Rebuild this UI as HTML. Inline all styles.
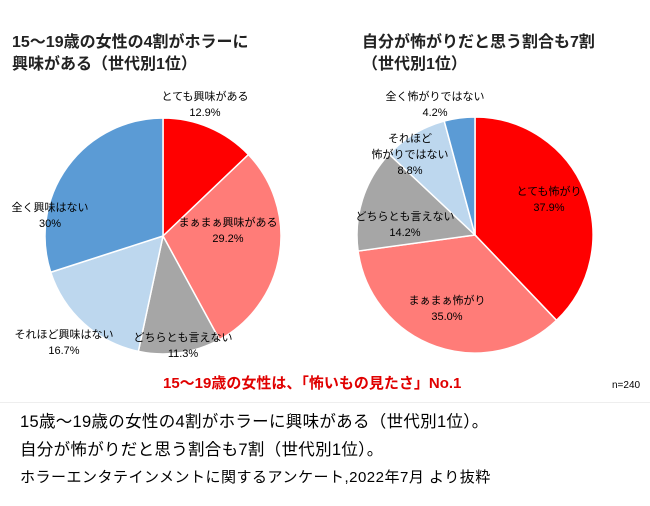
<!DOCTYPE html>
<html><head><meta charset="utf-8">
<style>
body{margin:0;width:650px;height:506px;background:#fff;overflow:hidden;font-family:"Liberation Sans","Noto Sans CJK JP",sans-serif;}
svg{position:absolute;left:0;top:0}
.t{position:absolute;color:#000;white-space:nowrap}
</style></head><body>
<svg width="650" height="506">
<g id="p1"></g>
<g id="p2"></g>
<g id="lbl" font-family="Liberation Sans, Noto Sans CJK JP, sans-serif" font-size="11" text-anchor="middle" fill="#000"></g>
</svg>
<div class="t" style="left:12px;top:32px;font-size:16px;line-height:22px;font-weight:bold;color:#222">15～19歳の女性の4割がホラーに<br>興味がある（世代別1位）</div>
<div class="t" style="left:362px;top:32px;font-size:16px;line-height:22px;font-weight:bold;color:#222">自分が怖がりだと思う割合も7割<br>（世代別1位）</div>
<div class="t" style="left:163px;top:372px;font-size:15px;font-weight:bold;color:#e00000">15～19歳の女性は、「怖いもの見たさ」No.1</div>
<div class="t" style="left:612px;top:380px;font-size:10px">n=240</div>
<div style="position:absolute;left:0;top:402px;width:650px;height:1px;background:#eee"></div>
<div class="t" style="left:20px;top:408px;font-size:16.5px;letter-spacing:0.3px">15歳～19歳の女性の4割がホラーに興味がある（世代別1位）。</div>
<div class="t" style="left:20px;top:436px;font-size:16.5px;letter-spacing:0.3px">自分が怖がりだと思う割合も7割（世代別1位）。</div>
<div class="t" style="left:20px;top:466px;font-size:15px;letter-spacing:0.5px">ホラーエンタテインメントに関するアンケート,2022年7月 より抜粋</div>
<script>
const colors=["#ff0000","#ff7c78","#a6a6a6","#bdd7ee","#5b9bd5"];
const cats1=["とても興味がある","まぁまぁ興味がある","どちらとも言えない","それほど興味はない","全く興味はない"];
const vals1=[12.9,29.2,11.3,16.7,30];
const txt1=["12.9%","29.2%","11.3%","16.7%","30%"];
const cats2=["とても怖がり","まぁまぁ怖がり","どちらとも言えない","それほど\n怖がりではない","全く怖がりではない"];
const vals2=[37.9,35.0,14.2,8.8,4.2];
const txt2=["37.9%","35.0%","14.2%","8.8%","4.2%"];
const NS="http://www.w3.org/2000/svg";
function pie(g,vals,cx,cy,r,names){
  const tot=vals.reduce((a,b)=>a+b,0);let a0=0;
  vals.forEach((v,i)=>{
    const a1=a0+v/tot*2*Math.PI;
    const x0=cx+r*Math.sin(a0),y0=cy-r*Math.cos(a0),x1=cx+r*Math.sin(a1),y1=cy-r*Math.cos(a1);
    const p=document.createElementNS(NS,"path");
    p.setAttribute("d",`M${cx},${cy}L${x0},${y0}A${r},${r} 0 ${a1-a0>Math.PI?1:0} 1 ${x1},${y1}Z`);
    p.setAttribute("fill",colors[i]);p.setAttribute("stroke","#fff");p.setAttribute("stroke-width","1.5");
    
    
    g.appendChild(p);a0=a1;
  });
}
pie(document.getElementById("p1"),vals1,163,236,118,["very","somewhat","neutral","not-much","not-at-all"]);
pie(document.getElementById("p2"),vals2,475,235,118,["very","somewhat","neutral","not-much","not-at-all"]);
const L=document.getElementById("lbl");
function label(x,y,name,pct){
  const lines=name.split("\n").concat([pct]);
  lines.forEach((s,k)=>{
    const t=document.createElementNS(NS,"text");
    t.setAttribute("x",x);t.setAttribute("y",y+k*16);t.textContent=s;
    
    
    L.appendChild(t);
  });
}
const pos1=[[205,100],[228,226],[183,341],[64,338],[50,211]];
const pos2=[[549,195],[447,304],[405,220],[410,142],[435,100]];
cats1.forEach((c,i)=>label(pos1[i][0],pos1[i][1],c,txt1[i]));
cats2.forEach((c,i)=>label(pos2[i][0],pos2[i][1],c,txt2[i]));
</script>
</body></html>
